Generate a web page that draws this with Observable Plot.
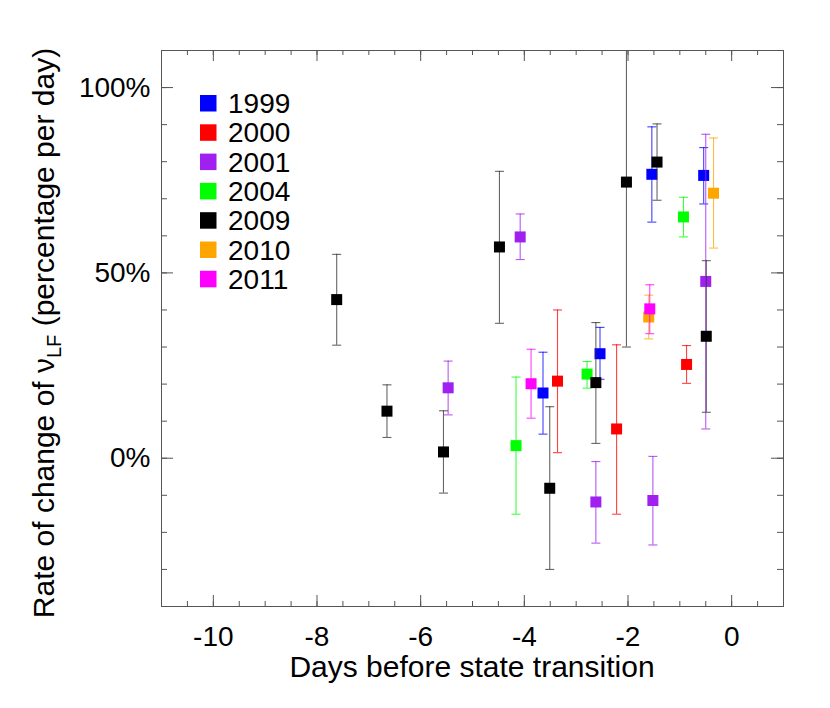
<!DOCTYPE html>
<html>
<head>
<meta charset="utf-8">
<script src="https://cdn.jsdelivr.net/npm/d3@7"></script>
<script src="https://cdn.jsdelivr.net/npm/@observablehq/plot@0.6"></script>
<style>
  body { margin: 0; background: #fff; }
  #chart svg { display: block; }
</style>
</head>
<body>
<div id="chart"></div>
<script>
// ---- data (days before transition, rate %/day, lower & upper error) ----
const years  = ["1999", "2000", "2001", "2004", "2009", "2010", "2011"];
const colors = ["#0000ff", "#ff0000", "#a020f0", "#00ff00", "#000000", "#ffa500", "#ff00ff"];

const day1999 = [-3.64, -2.54, -1.54, -0.54];
const val1999 = [17.6, 28.2, 76.6, 76.3];
const lo1999  = [6.5, 21.3, 63.7, 68.6];
const hi1999  = [28.6, 35.3, 89.4, 83.8];

const day2000 = [-3.36, -2.22, -0.87];
const val2000 = [20.8, 7.9, 25.3];
const lo2000  = [1.5, -15.1, 20.2];
const hi2000  = [40.0, 30.6, 30.4];

const day2001 = [-5.47, -4.08, -2.62, -1.52, -0.50];
const val2001 = [19.0, 59.7, -11.8, -11.4, 47.7];
const lo2001  = [11.7, 53.6, -22.9, -23.4, 7.9];
const hi2001  = [26.2, 65.9, -0.9, 0.5, 87.4];

const day2004 = [-4.16, -2.79, -0.93];
const val2004 = [3.4, 22.7, 65.1];
const lo2004  = [-15.1, 18.9, 59.7];
const hi2004  = [21.9, 26.1, 70.4];

const day2009 = [-7.62, -6.65, -5.56, -4.48, -3.51, -2.62, -2.03, -1.44, -0.49];
const val2009 = [42.8, 12.7, 1.7, 57.0, -8.1, 20.4, 74.5, 79.9, 32.9];
const lo2009  = [30.5, 5.6, -9.4, 36.4, -30.0, 4.0, 30.0, 69.6, 12.4];
const hi2009  = [55.0, 19.8, 12.8, 77.4, 13.9, 36.6, 119.0, 90.2, 53.3];

const day2010 = [-1.60, -0.35];
const val2010 = [38.1, 71.5];
const lo2010  = [32.2, 56.7];
const hi2010  = [44.0, 86.4];

const day2011 = [-3.87, -1.58];
const val2011 = [20.1, 40.3];
const lo2011  = [10.8, 33.6];
const hi2011  = [29.4, 46.8];

const xTicks = [-10, -8, -6, -4, -2, 0];
const yTicks = [0, 50, 100];
const xMinorTicks = d3.range(-10.5, 1, 0.5);
const yMinorTicks = d3.range(-30, 110, 10);

const series = [
  [day1999, val1999, lo1999, hi1999],
  [day2000, val2000, lo2000, hi2000],
  [day2001, val2001, lo2001, hi2001],
  [day2004, val2004, lo2004, hi2004],
  [day2009, val2009, lo2009, hi2009],
  [day2010, val2010, lo2010, hi2010],
  [day2011, val2011, lo2011, hi2011]
];
const rows = [];
series.forEach(([d, v, lo, hi], i) => {
  d.forEach((x, j) => rows.push({year: years[i], color: colors[i], day: x, rate: v[j], lo: lo[j], hi: hi[j]}));
});

// ---- layout ----
const W = 830, H = 708;
const mL = 161, mR = 47, mT = 50, mB = 102;
const plotW = W - mL - mR, plotH = H - mT - mB;
const frameColor = "#555";
const FONT = "Liberation Sans, Arial, Helvetica, sans-serif";

const capSymbol = {draw(ctx) { ctx.moveTo(-4.5, 0); ctx.lineTo(4.5, 0); }};
const squareSymbol = {draw(ctx) { ctx.rect(-5.5, -5.5, 11, 11); }};

const marks = [];
// ticks inside frame
marks.push(Plot.tickX(xMinorTicks, {x: d => d, stroke: frameColor, insetTop: plotH - 5}));
marks.push(Plot.tickX(xMinorTicks, {x: d => d, stroke: frameColor, insetBottom: plotH - 5}));
marks.push(Plot.tickX(xTicks, {x: d => d, stroke: frameColor, insetTop: plotH - 11}));
marks.push(Plot.tickX(xTicks, {x: d => d, stroke: frameColor, insetBottom: plotH - 11}));
marks.push(Plot.tickY(yMinorTicks, {y: d => d, stroke: frameColor, insetRight: plotW - 6}));
marks.push(Plot.tickY(yMinorTicks, {y: d => d, stroke: frameColor, insetLeft: plotW - 6}));
marks.push(Plot.tickY(yTicks, {y: d => d, stroke: frameColor, insetRight: plotW - 12}));
marks.push(Plot.tickY(yTicks, {y: d => d, stroke: frameColor, insetLeft: plotW - 12}));

// series drawn in year order
years.forEach((yr, i) => {
  const data = rows.filter(r => r.year === yr);
  const c = colors[i];
  const ebColor = yr === "2009" ? "#333" : c;
  marks.push(Plot.ruleX(data, {x: "day", y1: "lo", y2: "hi", stroke: ebColor, strokeWidth: 1.1, strokeOpacity: 0.75, clip: true}));
  marks.push(Plot.dot(data, {x: "day", y: "lo", symbol: capSymbol, r: 4, fill: "none", stroke: ebColor, strokeWidth: 1.1, strokeOpacity: 0.75, clip: true}));
  marks.push(Plot.dot(data, {x: "day", y: "hi", symbol: capSymbol, r: 4, fill: "none", stroke: ebColor, strokeWidth: 1.1, strokeOpacity: 0.75, clip: true}));
  marks.push(Plot.dot(data, {x: "day", y: "rate", symbol: squareSymbol, r: 6, fill: c, stroke: "none"}));
});

marks.push(Plot.frame({stroke: frameColor}));
marks.push(Plot.axisX(xTicks, {tickSize: 0, tickPadding: 20, tickFormat: d => String(d), fontSize: 28, label: null}));
marks.push(Plot.axisY(yTicks, {tickSize: 0, tickPadding: 11, tickFormat: d => d + "%", fontSize: 28, label: null}));

const chart = Plot.plot({
  width: W, height: H,
  marginLeft: mL, marginRight: mR, marginTop: mT, marginBottom: mB,
  style: {fontFamily: FONT, fontSize: "28px", color: "#000", background: "#fff"},
  x: {domain: [-11, 1], label: null},
  y: {domain: [-40, 110], label: null},
  marks
});
document.getElementById("chart").appendChild(chart);

// ---- titles and legend added to the SVG ----
const svg = d3.select(chart);
svg.append("text")
  .attr("x", mL + plotW / 2).attr("y", 677)
  .attr("text-anchor", "middle")
  .attr("font-family", FONT).attr("font-size", 30)
  .attr("fill", "#000")
  .text("Days before state transition");

const yt = svg.append("text")
  .attr("transform", `translate(54, ${mT + plotH / 2 + 5}) rotate(-90)`)
  .attr("text-anchor", "middle")
  .attr("font-family", FONT).attr("font-size", 30)
  .attr("fill", "#000");
yt.append("tspan").text("Rate of change of \u03bd");
yt.append("tspan").attr("font-size", 20).attr("dy", 7).text("LF");
yt.append("tspan").attr("dy", -7).text(" (percentage per day)");

const lg = svg.append("g").attr("font-family", FONT).attr("font-size", 28).attr("text-anchor", "start");
years.forEach((yr, i) => {
  const cy = 103 + i * 29.3;
  lg.append("rect").attr("x", 200).attr("y", cy - 8).attr("width", 16.5).attr("height", 16.5).attr("fill", colors[i]);
  lg.append("text").attr("x", 228).attr("y", cy + 10).attr("text-anchor", "start").attr("fill", "#000").text(yr);
});
</script>
</body>
</html>
